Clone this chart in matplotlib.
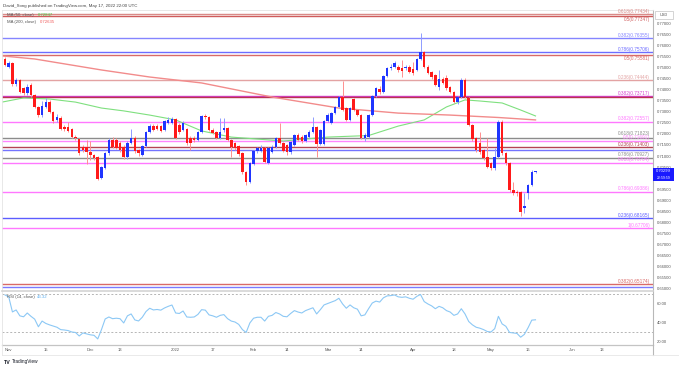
import matplotlib
matplotlib.use("Agg")
import matplotlib.pyplot as plt
from matplotlib.patches import Rectangle
from matplotlib.lines import Line2D
import matplotlib.transforms as mtransforms
import numpy as np

plt.rcParams['font.family'] = ['Liberation Sans', 'DejaVu Sans']

# ---------------- data (AUD/USD daily, Oct 29 2021 .. May 18 2022) ----------------
opens = [0.7541, 0.7506, 0.7523, 0.7427, 0.7445, 0.7409, 0.7386, 0.7423, 0.7377, 0.7323,
         0.7286, 0.7323, 0.7345, 0.7300, 0.7264, 0.7273, 0.7232, 0.7232, 0.7223, 0.7186,
         0.7177, 0.7141, 0.7141, 0.7118, 0.7105, 0.7095, 0.7000, 0.7045, 0.7114, 0.7173,
         0.7173, 0.7159, 0.7141, 0.7095, 0.7159, 0.7182, 0.7127, 0.7105, 0.7145, 0.7209,
         0.7236, 0.7236, 0.7236, 0.7218, 0.7250, 0.7250, 0.7268, 0.7241, 0.7218, 0.7223,
         0.7182, 0.7182, 0.7173, 0.7209, 0.7282, 0.7277, 0.7218, 0.7209, 0.7182, 0.7218,
         0.7227, 0.7173, 0.7159, 0.7145, 0.7114, 0.7027, 0.6982, 0.7064, 0.7123, 0.7123,
         0.7136, 0.7068, 0.7118, 0.7141, 0.7182, 0.7159, 0.7150, 0.7118, 0.7150, 0.7195,
         0.7186, 0.7168, 0.7186, 0.7209, 0.7232, 0.7155, 0.7155, 0.7259, 0.7250, 0.7295,
         0.7323, 0.7368, 0.7318, 0.7264, 0.7359, 0.7309, 0.7286, 0.7182, 0.7186, 0.7286,
         0.7373, 0.7405, 0.7391, 0.7464, 0.7500, 0.7505, 0.7505, 0.7500, 0.7500, 0.7505,
         0.7495, 0.7491, 0.7541, 0.7573, 0.7505, 0.7482, 0.7468, 0.7414, 0.7450, 0.7455,
         0.7414, 0.7391, 0.7345, 0.7368, 0.7445, 0.7364, 0.7241, 0.7182, 0.7159, 0.7127,
         0.7095, 0.7068, 0.7045, 0.7095, 0.7255, 0.7114, 0.7068, 0.6945, 0.6936, 0.6936,
         0.6862, 0.6932, 0.6968, 0.7027]
highs = [0.7550, 0.7532, 0.7527, 0.7455, 0.7450, 0.7414, 0.7427, 0.7430, 0.7382, 0.7327,
         0.7350, 0.7364, 0.7355, 0.7305, 0.7290, 0.7280, 0.7240, 0.7255, 0.7227, 0.7195,
         0.7182, 0.7150, 0.7173, 0.7168, 0.7110, 0.7100, 0.7055, 0.7118, 0.7182, 0.7186,
         0.7180, 0.7168, 0.7150, 0.7168, 0.7223, 0.7190, 0.7132, 0.7150, 0.7214, 0.7245,
         0.7245, 0.7245, 0.7241, 0.7264, 0.7277, 0.7277, 0.7273, 0.7250, 0.7259, 0.7227,
         0.7190, 0.7190, 0.7214, 0.7286, 0.7290, 0.7282, 0.7227, 0.7214, 0.7273, 0.7273,
         0.7232, 0.7177, 0.7164, 0.7150, 0.7118, 0.7032, 0.7073, 0.7127, 0.7141, 0.7150,
         0.7141, 0.7141, 0.7150, 0.7186, 0.7250, 0.7164, 0.7155, 0.7168, 0.7200, 0.7205,
         0.7195, 0.7200, 0.7218, 0.7277, 0.7236, 0.7223, 0.7264, 0.7295, 0.7300, 0.7327,
         0.7373, 0.7441, 0.7323, 0.7323, 0.7364, 0.7314, 0.7290, 0.7205, 0.7290, 0.7377,
         0.7414, 0.7418, 0.7468, 0.7505, 0.7518, 0.7532, 0.7514, 0.7536, 0.7514, 0.7514,
         0.7527, 0.7545, 0.7661, 0.7577, 0.7514, 0.7486, 0.7473, 0.7491, 0.7459, 0.7468,
         0.7418, 0.7395, 0.7373, 0.7455, 0.7455, 0.7368, 0.7245, 0.7186, 0.7209, 0.7132,
         0.7182, 0.7073, 0.7136, 0.7264, 0.7264, 0.7118, 0.7073, 0.6982, 0.6945, 0.6941,
         0.6932, 0.6975, 0.7036, 0.7032]
lows = [0.7509, 0.7500, 0.7418, 0.7418, 0.7386, 0.7377, 0.7377, 0.7370, 0.7318, 0.7277,
        0.7277, 0.7318, 0.7295, 0.7250, 0.7255, 0.7218, 0.7214, 0.7209, 0.7182, 0.7173,
        0.7105, 0.7118, 0.7064, 0.7082, 0.7082, 0.6993, 0.6995, 0.7041, 0.7105, 0.7136,
        0.7130, 0.7118, 0.7086, 0.7086, 0.7155, 0.7114, 0.7100, 0.7100, 0.7141, 0.7205,
        0.7214, 0.7218, 0.7209, 0.7214, 0.7245, 0.7245, 0.7177, 0.7200, 0.7214, 0.7150,
        0.7127, 0.7164, 0.7168, 0.7205, 0.7268, 0.7214, 0.7200, 0.7177, 0.7177, 0.7209,
        0.7168, 0.7095, 0.7127, 0.7100, 0.7018, 0.6968, 0.6977, 0.7059, 0.7114, 0.7118,
        0.7068, 0.7064, 0.7114, 0.7136, 0.7155, 0.7118, 0.7105, 0.7109, 0.7145, 0.7168,
        0.7159, 0.7164, 0.7182, 0.7205, 0.7095, 0.7150, 0.7150, 0.7255, 0.7245, 0.7290,
        0.7318, 0.7305, 0.7259, 0.7259, 0.7305, 0.7282, 0.7177, 0.7168, 0.7182, 0.7282,
        0.7368, 0.7382, 0.7386, 0.7459, 0.7491, 0.7500, 0.7482, 0.7459, 0.7491, 0.7477,
        0.7468, 0.7486, 0.7536, 0.7500, 0.7473, 0.7450, 0.7418, 0.7400, 0.7427, 0.7400,
        0.7386, 0.7341, 0.7336, 0.7364, 0.7364, 0.7236, 0.7168, 0.7118, 0.7109, 0.7082,
        0.7045, 0.7036, 0.7036, 0.7091, 0.7105, 0.7059, 0.6936, 0.6925, 0.6920, 0.6829,
        0.6841, 0.6905, 0.6964, 0.7025]
closes = [0.7514, 0.7524, 0.7427, 0.7445, 0.7391, 0.7386, 0.7414, 0.7377, 0.7323, 0.7286,
          0.7327, 0.7345, 0.7300, 0.7259, 0.7277, 0.7223, 0.7223, 0.7214, 0.7186, 0.7182,
          0.7114, 0.7127, 0.7118, 0.7105, 0.7091, 0.6995, 0.7050, 0.7114, 0.7173, 0.7141,
          0.7136, 0.7127, 0.7095, 0.7159, 0.7182, 0.7123, 0.7114, 0.7145, 0.7209, 0.7236,
          0.7218, 0.7223, 0.7214, 0.7259, 0.7264, 0.7268, 0.7182, 0.7209, 0.7250, 0.7159,
          0.7159, 0.7173, 0.7209, 0.7282, 0.7277, 0.7218, 0.7205, 0.7182, 0.7209, 0.7227,
          0.7173, 0.7141, 0.7136, 0.7109, 0.7027, 0.6982, 0.7068, 0.7123, 0.7136, 0.7136,
          0.7073, 0.7136, 0.7141, 0.7182, 0.7159, 0.7123, 0.7118, 0.7164, 0.7195, 0.7173,
          0.7168, 0.7195, 0.7209, 0.7232, 0.7155, 0.7218, 0.7259, 0.7286, 0.7295, 0.7323,
          0.7368, 0.7309, 0.7264, 0.7318, 0.7309, 0.7286, 0.7182, 0.7195, 0.7286, 0.7373,
          0.7409, 0.7391, 0.7464, 0.7500, 0.7505, 0.7523, 0.7491, 0.7486, 0.7505, 0.7482,
          0.7477, 0.7541, 0.7573, 0.7505, 0.7477, 0.7459, 0.7423, 0.7450, 0.7432, 0.7409,
          0.7391, 0.7345, 0.7368, 0.7445, 0.7368, 0.7241, 0.7177, 0.7127, 0.7118, 0.7091,
          0.7050, 0.7045, 0.7095, 0.7255, 0.7114, 0.7068, 0.6945, 0.6932, 0.6932, 0.6845,
          0.6873, 0.6968, 0.7027, 0.7030]

rsi_vals = [69.5, 67.5, 51.6, 53.7, 47.5, 46.5, 50.5, 47.0, 44.0, 36.0,
            42.0, 39.5, 38.0, 36.8, 35.5, 33.0, 32.6, 32.0, 30.5, 30.0,
            26.3, 29.5, 28.5, 27.5, 27.0, 23.2, 33.0, 44.2, 46.3, 44.5,
            45.0, 44.5, 40.0, 47.5, 49.5, 43.2, 42.1, 46.0, 52.0, 55.5,
            53.7, 54.2, 53.5, 55.8, 57.5, 58.9, 50.5, 50.0, 52.6, 46.3,
            46.0, 46.3, 49.0, 54.0, 53.5, 48.5, 47.5, 46.0, 48.0, 48.8,
            44.5, 42.0, 41.0, 38.5, 33.0, 30.0, 40.0, 45.0, 46.0, 46.0,
            42.0, 47.0, 48.0, 51.0, 49.5, 47.0, 46.5, 50.0, 53.0, 51.5,
            50.5, 53.0, 54.5, 56.0, 49.5, 54.0, 59.0, 60.5, 62.0, 63.5,
            66.0, 60.0, 55.5, 59.0, 56.0, 54.5, 47.5, 48.5, 55.0, 61.0,
            63.0, 62.0, 66.5, 68.5, 68.8, 69.5, 67.5, 67.0, 67.5, 66.0,
            65.0, 68.0, 70.0, 62.5, 60.0, 58.0, 55.0, 57.5, 56.0, 53.0,
            51.5, 48.0, 49.5, 55.0, 49.5, 41.5, 38.0, 35.5, 34.5, 33.0,
            31.0, 30.5, 34.0, 47.0, 39.0, 36.5, 30.0, 29.5, 29.0, 25.0,
            28.0, 35.0, 43.0, 43.32]

ma50_idx = [-1.8, 4, 11, 18, 25, 31, 38, 45, 52, 60, 74, 86, 97, 105, 112, 118, 123, 127, 133, 138, 142]
ma50_val = [0.7345, 0.7364, 0.7359, 0.7345, 0.7318, 0.7305, 0.7286, 0.7264, 0.7214, 0.7186, 0.7168,
            0.7186, 0.7193, 0.7236, 0.7264, 0.7323, 0.7355, 0.7350, 0.7341, 0.7309, 0.7282]
ma200_idx = [-1.8, 7, 25, 38, 52, 71, 89, 105, 119, 132, 142]
ma200_val = [0.7555, 0.7541, 0.7491, 0.7459, 0.7432, 0.7368, 0.7318, 0.7295, 0.7286, 0.7275, 0.7264]

level_vals = [0.77434, 0.77347, 0.76355, 0.75706, 0.75581, 0.74444, 0.73717, 0.73700, 0.72557,
              0.71823, 0.71691, 0.71403, 0.71285, 0.70927, 0.70704, 0.69386, 0.68165, 0.67706,
              0.65174, 0.65035]
level_labels = ['0.618(0.77434)', '0.5(0.77347)', '0.382(0.76355)', '0.786(0.75706)', '0.5(0.75581)',
                '0.236(0.74444)', '0.382(0.73717)', '', '0.382(0.72557)', '0.618(0.71823)',
                '0.5(0.71691)', '0.236(0.71403)', '', '0.786(0.70927)', '0.618(0.70704)',
                '0.786(0.69386)', '0.236(0.68165)', '1(0.67706)', '0.382(0.65174)', '']
level_colors = ['#d98a88', '#cf5c5c', '#8585ff', '#6d6dff', '#d96a68', '#e3a3a3', '#d63fcf', '#b8344f',
                '#ff78ff', '#8c8c8c', '#ff85ff', '#b44453', '#7474ff', '#8c8c8c', '#ff78ff', '#ff78ff',
                '#5c5cff', '#ff78ff', '#d96a68', '#7a7aff']

date_ticks = [0, 10, 22, 30, 45, 55, 66, 75, 86, 95, 109, 120, 130, 140, 152, 160]
date_labels = ['Nov', '15', 'Dec', '13', '2022', '17', 'Feb', '14', 'Mar', '14', 'Apr', '18',
               'May', '16', 'Jun', '13']

price_ticks = [round(0.65 + 0.005 * k, 3) for k in range(25)]
rsi_ticks = [20, 40, 60]

# ---------------- figure ----------------
W, H = 679, 368
fig = plt.figure(figsize=(W / 100, H / 100), dpi=100)
fig.patch.set_facecolor('white')


def fx(x):
    return x / W


def fy(y):
    return 1 - y / H


ax = fig.add_axes([fx(2), fy(291), fx(653) - fx(2), fy(10) - fy(291)])
rax = fig.add_axes([fx(2), fy(345), fx(653) - fx(2), fy(292) - fy(345)], sharex=ax)

idx = np.arange(-1, -1 + len(closes))
o = np.array(opens); c = np.array(closes); hi = np.array(highs); lo = np.array(lows)
up = c >= o
body_col = np.where(up, '#1f35ff', '#ff1a1a')
wick_col = np.where(up, '#8e9bff', '#ff8f8f')

ax.vlines(idx, lo, hi, colors=wick_col, lw=0.7, zorder=3)
bottom = np.minimum(o, c)
height = np.maximum(np.abs(c - o), 0.00035)
ax.bar(idx, height, bottom=bottom, width=0.68, color=body_col, linewidth=0, zorder=4)

# label placement tweaks (pixels) where levels sit close together
below_labels = {'0.5(0.77347)', '0.5(0.75581)'}
raise_px = {'0.618(0.71823)': 1.6}
px = 1 / 2200.0
blend = mtransforms.blended_transform_factory(ax.transAxes, ax.transData)
for v, lab, col in zip(level_vals, level_labels, level_colors):
    ax.axhline(v, color=col, lw=1.0, zorder=1)
    if lab:
        if lab in below_labels:
            ax.text(0.9955, v - 0.0002, lab, transform=blend, ha='right', va='top',
                    fontsize=3.3, color=col, zorder=5)
        else:
            ax.text(0.9955, v + 0.00022 + raise_px.get(lab, 0) * px, lab, transform=blend,
                    ha='right', va='bottom', fontsize=3.4, color=col, zorder=5)

ax.plot(ma50_idx, ma50_val, color='#7fe07f', lw=0.8, zorder=2)
ax.plot(ma200_idx, ma200_val, color='#f28b8b', lw=1.0, zorder=2)

ax.set_xlim(-1.81, 173.67)
ax.set_ylim(0.64864, 0.77636)
ax.set_yticks(price_ticks)
ax.set_yticklabels([f"{v:.5f}" for v in price_ticks])
ax.yaxis.tick_right()
ax.tick_params(axis='y', length=0, pad=2.8, labelsize=3.0, labelcolor='#555555')
ax.tick_params(axis='x', length=0, labelbottom=False)
for s in ['top', 'left']:
    ax.spines[s].set_color('#e4e4e4'); ax.spines[s].set_linewidth(0.6)
ax.spines['right'].set_color('#b8b8b8'); ax.spines['right'].set_linewidth(0.8)
ax.spines['bottom'].set_color('#d4d4d4'); ax.spines['bottom'].set_linewidth(1.2)

# RSI pane
rax.plot(idx, rsi_vals, color='#8cc8f5', lw=0.8, zorder=3)
for lvl in (70, 30):
    rax.axhline(lvl, color='#b5b5b5', lw=0.7, ls=(0, (2, 2)), zorder=1)
rax.set_ylim(16.8, 72.6)
rax.set_yticks(rsi_ticks)
rax.set_yticklabels([f"{v:.2f}" for v in rsi_ticks])
rax.yaxis.tick_right()
rax.tick_params(axis='y', length=0, pad=2.8, labelsize=3.0, labelcolor='#555555')
rax.set_xticks(date_ticks)
rax.set_xticklabels(date_labels)
rax.tick_params(axis='x', length=0, pad=2.5, labelsize=3.0, labelcolor='#555555')
rax.spines['top'].set_visible(False)
rax.spines['left'].set_color('#e4e4e4'); rax.spines['left'].set_linewidth(0.6)
rax.spines['right'].set_color('#b8b8b8'); rax.spines['right'].set_linewidth(0.8)
rax.spines['bottom'].set_color('#c4c4c4'); rax.spines['bottom'].set_linewidth(0.9)

# frame lines
fig.add_artist(Line2D([fx(653), fx(653)], [fy(345), fy(355)], color='#b8b8b8', lw=0.8))
fig.add_artist(Line2D([fx(2), fx(679)], [fy(355), fy(355)], color='#e6e6e6', lw=0.6))
fig.add_artist(Line2D([fx(2), fx(2)], [fy(345), fy(355)], color='#e6e6e6', lw=0.6))

# texts
fig.text(fx(3), fy(5.5), "David_Song published on TradingView.com, May 17, 2022 22:00 UTC",
         fontsize=3.2, color='#444444', va='center', ha='left')
fig.text(fx(7), fy(15), "MA (50, close)", fontsize=3.1, color='#555555', va='center')
fig.text(fx(38), fy(15), "0.72847", fontsize=3.1, color='#3fcf3f', va='center')
fig.text(fx(7), fy(22), "MA (200, close)", fontsize=3.1, color='#555555', va='center')
fig.text(fx(40), fy(22), "0.72635", fontsize=3.1, color='#f05a5a', va='center')
fig.text(fx(7), fy(297), "RSI (14, close)", fontsize=3.1, color='#555555', va='center')
fig.text(fx(37), fy(297), "43.32", fontsize=3.1, color='#5aaef0', va='center')

# USD box
fig.add_artist(Rectangle((fx(655), fy(18.5)), fx(18), 7 / H, facecolor='white', edgecolor='#c4c4c4', lw=0.5, zorder=5))
fig.text(fx(664), fy(15), "USD", fontsize=2.8, color='#555555', ha='center', va='center', zorder=6)

# current price box
fig.add_artist(Rectangle((fx(653), fy(181)), fx(21), 13 / H, facecolor='#1a1aff', edgecolor='none', zorder=5))
fig.text(fx(663.5), fy(171.3), "0.70299", fontsize=3.0, color='white', ha='center', va='center', zorder=6)
fig.text(fx(663.5), fy(177.6), "22:59:59", fontsize=2.5, color='white', ha='center', va='center', zorder=6)

# footer
fig.text(fx(4), fy(362), "TV", fontsize=3.8, color='#131722', fontweight='bold', va='center')
fig.text(fx(11.5), fy(362), "TradingView", fontsize=3.4, color='#131722', va='center')

fig.savefig("out.png", dpi=100, facecolor='white')
